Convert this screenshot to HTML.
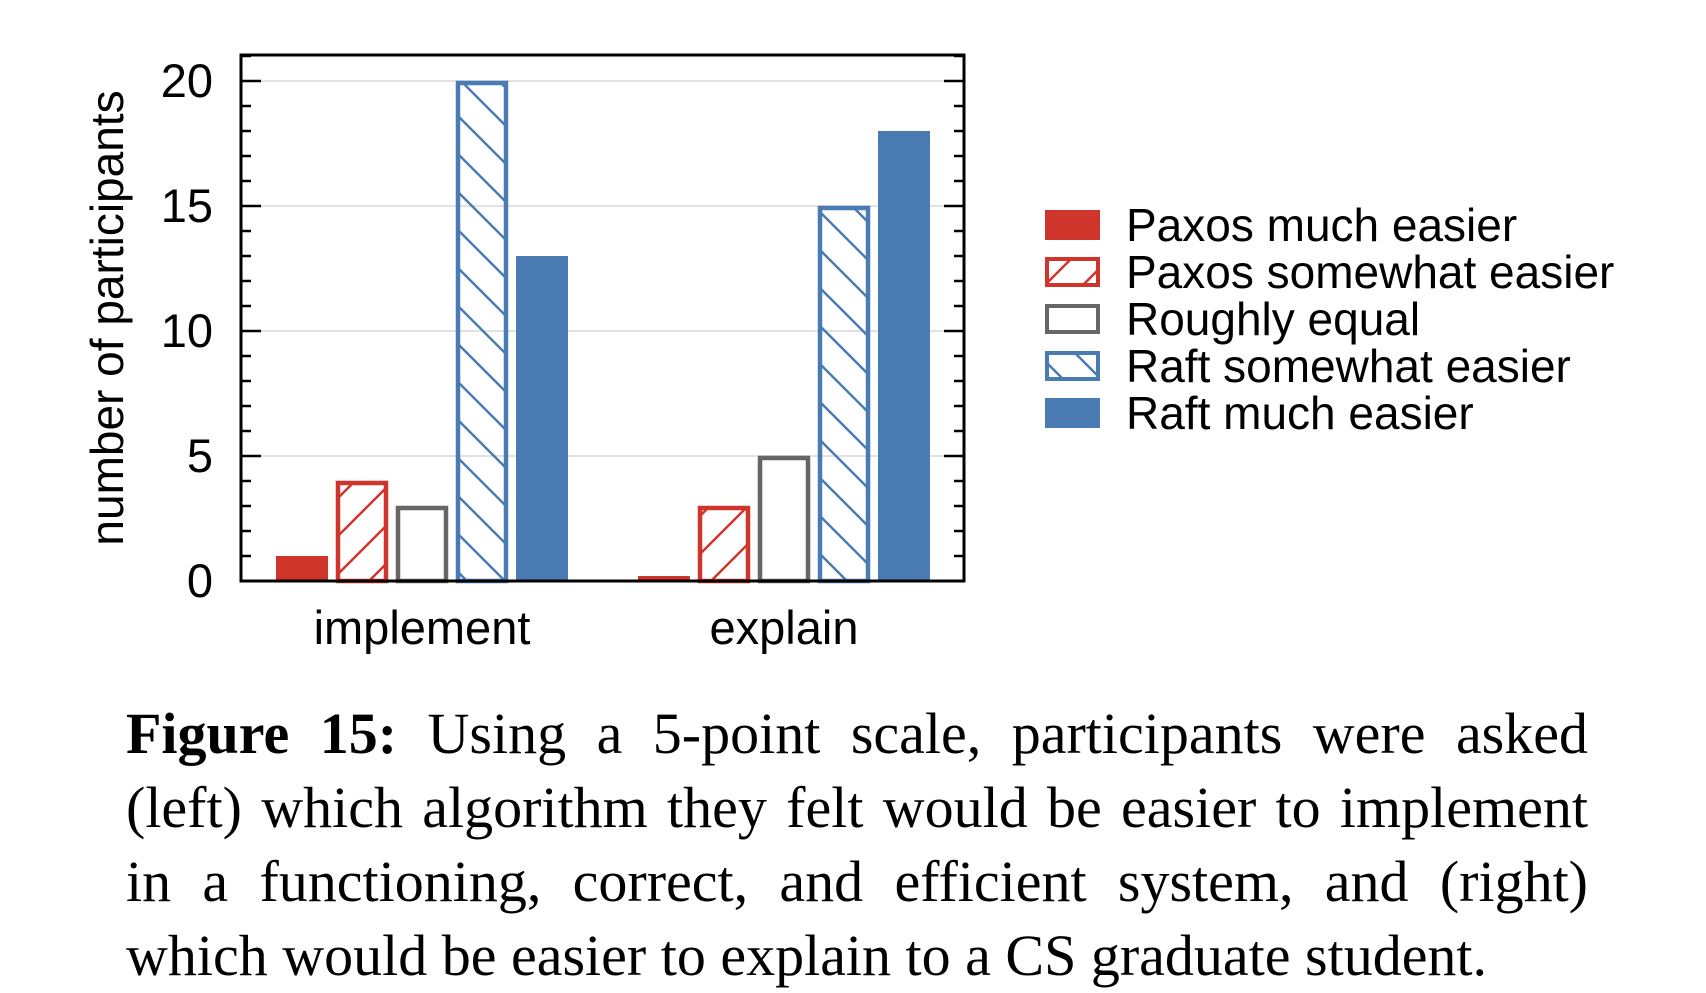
<!DOCTYPE html>
<html><head><meta charset="utf-8"><style>
body{margin:0;background:#fff;width:1706px;height:988px;overflow:hidden;position:relative}
svg{display:block}
#cap{position:absolute;left:126px;top:697px;width:1462px;font-family:"Liberation Serif",serif;font-size:58px;line-height:74px;text-align:justify;text-align-last:left;color:#000}
</style></head><body>
<svg id="chart" width="1706" height="988" xmlns="http://www.w3.org/2000/svg">
<defs>
<pattern id="hr" patternUnits="userSpaceOnUse" width="38" height="38"><path d="M-9,47 L47,-9 M-28,28 L28,-28 M10,66 L66,10" stroke="#d0352b" stroke-width="2.5"/></pattern>
<pattern id="hb" patternUnits="userSpaceOnUse" width="38" height="38"><path d="M-9,-9 L47,47 M-28,10 L28,66 M10,-28 L66,28" stroke="#4a7bb2" stroke-width="2.5"/></pattern>
</defs>
<g id="g"></g>
</svg>
<div id="cap"><b>Figure 15:</b> Using a 5-point scale, participants were asked (left) which algorithm they felt would be easier to implement in a functioning, correct, and efficient system, and (right) which would be easier to explain to a CS graduate student.</div>
<script>
const categories=["implement","explain"];
const series=["Paxos much easier","Paxos somewhat easier","Roughly equal","Raft somewhat easier","Raft much easier"];
const implementVals=[1,4,3,20,13];
const explainVals=[0.2,3,5,15,18];
const yTicks=[0,5,10,15,20];
const NS="http://www.w3.org/2000/svg";
const g=document.getElementById('g');
const L=241,R=964,T=55,B=581,YMAX=21.04;
const y=v=>B-(v/YMAX)*(B-T);
const groupX=[276,638],pitch=60,bw=52;
function mk(t,a,p){const e=document.createElementNS(NS,t);for(const k in a)e.setAttribute(k,a[k]);(p||g).appendChild(e);return e;}
const styles=[
 {fill:"#d0352b",stroke:"none"},
 {fill:"url(#hr)",stroke:"#d0352b"},
 {fill:"#fff",stroke:"#666"},
 {fill:"url(#hb)",stroke:"#4a7bb2"},
 {fill:"#4a7bb2",stroke:"none"}];
yTicks.forEach(v=>{if(v>0){const l=mk('line',{x1:L,x2:R,y1:y(v),y2:y(v),stroke:"#e2e2e2","stroke-width":2});}});
for(let v=0;v<=21;v++){const len=v%5==0?20:10;
 mk('line',{x1:L,x2:L+len,y1:y(v),y2:y(v),stroke:"#000","stroke-width":2.5});
 mk('line',{x1:R-len,x2:R,y1:y(v),y2:y(v),stroke:"#000","stroke-width":2.5});}
yTicks.forEach(v=>{const t=mk('text',{x:213,y:y(v)+16,"text-anchor":"end","font-family":"Liberation Sans, sans-serif","font-size":47});t.textContent=v;
});
[implementVals,explainVals].forEach((vals,gi)=>{vals.forEach((v,i)=>{
 const s=styles[i];const x=groupX[gi]+i*pitch;const top=y(v);
 const r=mk('rect',{x:s.stroke=="none"?x:x+2,y:s.stroke=="none"?top:top+2,width:s.stroke=="none"?bw:bw-4,height:Math.max(0,s.stroke=="none"?B-top:B-top-2),fill:s.fill,stroke:s.stroke,"stroke-width":s.stroke=="none"?0:4.5});
 
 
});
 const t=mk('text',{x:groupX[gi]+2*pitch+bw/2,y:644,"text-anchor":"middle","font-family":"Liberation Sans, sans-serif","font-size":47});t.textContent=categories[gi];
 
});
const f=mk('rect',{x:L,y:T,width:R-L,height:B-T,fill:"none",stroke:"#000","stroke-width":3});

const yt=mk('text',{x:0,y:0,transform:"translate(123,318) rotate(-90)","text-anchor":"middle","font-family":"Liberation Sans, sans-serif","font-size":46});yt.textContent="number of participants";

series.forEach((s,i)=>{const cy=225+i*47;const st=styles[i];
 const sw=st.stroke=="none"?mk('rect',{x:1045,y:cy-15,width:55,height:30,fill:st.fill}):mk('rect',{x:1047,y:cy-13,width:51,height:26,fill:st.fill,stroke:st.stroke,"stroke-width":4});
 
 const t=mk('text',{x:1126,y:cy+16,"font-family":"Liberation Sans, sans-serif","font-size":46});t.textContent=s;
 });
</script>
</body></html>
